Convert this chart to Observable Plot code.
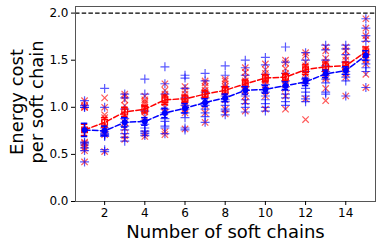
<!DOCTYPE html>
<html><head><meta charset="utf-8">
<script src="https://cdn.jsdelivr.net/npm/d3@7"></script>
<script src="https://cdn.jsdelivr.net/npm/@observablehq/plot@0.6"></script>
<style>body{margin:0;background:#fff}</style>
</head><body><div id="chart"></div>
<script>
const chains = [1,2,3,4,5,6,7,8,9,10,11,12,13,14,15];
const redPoints = [
  [1.07,1.02,1.0,1.0,0.63,0.62,0.60,0.57,0.54,0.42],
  [1.10,1.0,0.92,0.89,0.82,0.76,0.73,0.71,0.53],
  [1.14,1.12,1.08,1.02,0.97,0.92,0.84,0.78,0.70,0.66],
  [1.12,1.08,1.06,1.04,1.0,0.98,0.95,0.90,0.72,0.69],
  [1.25,1.18,1.14,1.12,1.08,1.05,1.0,0.95,0.74,0.71],
  [1.22,1.18,1.14,1.10,1.08,1.05,1.02,0.98,0.94,0.77],
  [1.28,1.26,1.22,1.18,1.15,1.12,1.08,1.02,0.94,0.84],
  [1.30,1.28,1.25,1.22,1.19,1.16,1.12,1.08,0.98,0.93],
  [1.42,1.37,1.32,1.28,1.25,1.22,1.18,1.12,1.06,0.96],
  [1.46,1.40,1.36,1.32,1.30,1.28,1.24,1.18,1.12,0.98],
  [1.50,1.47,1.41,1.36,1.32,1.28,1.24,1.20,1.12,0.98],
  [1.58,1.55,1.48,1.44,1.40,1.36,1.32,1.28,1.09,0.87],
  [1.64,1.60,1.52,1.48,1.42,1.38,1.32,1.30,1.20,1.07],
  [1.64,1.60,1.54,1.50,1.46,1.42,1.40,1.36,1.32,1.12],
  [1.94,1.84,1.76,1.72,1.62,1.56,1.50,1.46,1.35,1.21]
];
const bluePoints = [
  [1.07,1.02,1.0,1.0,0.63,0.62,0.60,0.57,0.54,0.42],
  [1.20,1.0,0.78,0.74,0.72,0.71,0.70,0.69,0.55,0.53],
  [1.14,1.10,0.98,0.88,0.84,0.80,0.76,0.72,0.68,0.64],
  [1.30,1.14,0.96,0.86,0.82,0.78,0.75,0.74,0.72,0.70],
  [1.43,1.25,1.14,0.98,0.94,0.88,0.85,0.80,0.78,0.72],
  [1.34,1.31,1.20,1.10,1.02,0.98,0.94,0.89,0.78,0.76],
  [1.36,1.28,1.16,1.10,1.05,1.02,0.98,0.94,0.90,0.84],
  [1.44,1.34,1.22,1.12,1.08,1.06,1.02,0.98,0.96,0.92],
  [1.50,1.42,1.34,1.22,1.18,1.12,1.08,1.04,1.0,0.95],
  [1.53,1.45,1.35,1.24,1.16,1.12,1.08,1.04,1.0,0.96],
  [1.64,1.48,1.36,1.28,1.22,1.18,1.14,1.10,1.06,1.02],
  [1.58,1.50,1.38,1.30,1.25,1.20,1.16,1.12,1.09,1.06],
  [1.66,1.61,1.50,1.44,1.38,1.34,1.30,1.26,1.16,1.14],
  [1.66,1.62,1.56,1.48,1.42,1.38,1.35,1.32,1.28,1.12],
  [1.94,1.84,1.76,1.70,1.56,1.50,1.46,1.42,1.38,1.21]
];
const redMean = [0.76,0.84,0.95,0.98,1.08,1.09,1.14,1.18,1.25,1.31,1.32,1.40,1.43,1.44,1.59];
const redErr  = [0.06,0.05,0.05,0.04,0.05,0.04,0.04,0.04,0.04,0.04,0.04,0.05,0.05,0.04,0.05];
const blueMean = [0.76,0.75,0.84,0.85,0.94,0.99,1.05,1.10,1.18,1.19,1.23,1.27,1.355,1.39,1.55];
const blueErr  = [0.07,0.05,0.05,0.04,0.05,0.05,0.04,0.04,0.04,0.04,0.04,0.04,0.04,0.04,0.05];
const yTicks = [0,0.5,1.0,1.5,2.0];
const xTicks = [2,4,6,8,10,12,14];
const refLevel = 2.0;

const redScatter = chains.flatMap((c,i) => redPoints[i].map(v => ({x:c, y:v})));
const blueScatter = chains.flatMap((c,i) => bluePoints[i].map(v => ({x:c, y:v})));
const redStats = chains.map((c,i) => ({x:c, y:redMean[i], e:redErr[i]}));
const blueStats = chains.map((c,i) => ({x:c, y:blueMean[i], e:blueErr[i]}));
const cap = 0.16;

const errMarks = (data, color) => [
  Plot.ruleX(data, {x:"x", y1:d=>d.y-d.e, y2:d=>d.y+d.e, stroke:color, strokeWidth:1.5}),
  Plot.ruleY(data, {y:d=>d.y-d.e, x1:d=>d.x-cap, x2:d=>d.x+cap, stroke:color, strokeWidth:1.5}),
  Plot.ruleY(data, {y:d=>d.y+d.e, x1:d=>d.x-cap, x2:d=>d.x+cap, stroke:color, strokeWidth:1.5})
];

const chart = Plot.plot({
  width: 381, height: 248,
  marginLeft: 75, marginRight: 6, marginTop: 6, marginBottom: 47,
  style: {fontFamily: "DejaVu Sans", fontSize: "12px", color: "#000", background: "#fff"},
  x: {domain: [0.55, 15.48]},
  y: {domain: [0, 2.07]},
  marks: [
    Plot.ruleY([refLevel], {stroke:"#000", strokeWidth:1.2, strokeDasharray:"4.5,2.2"}),
    Plot.dot(redScatter, {x:"x", y:"y", symbol:"times", r:3, stroke:"#ff0000", strokeOpacity:0.65, strokeWidth:1.2}),
    Plot.dot(blueScatter, {x:"x", y:"y", symbol:"plus", r:3, stroke:"#0000ff", strokeOpacity:0.65, strokeWidth:1.2}),
    ...errMarks(redStats, "#ff0000"),
    Plot.line(redStats, {x:"x", y:"y", stroke:"#ff0000", strokeWidth:1.5, strokeDasharray:"5.5,2.4"}),
    Plot.dot(redStats, {x:"x", y:"y", symbol:"square", r:3.2, stroke:"#ff0000", fill:"none", strokeWidth:1.2}),
    ...errMarks(blueStats, "#0000ff"),
    Plot.line(blueStats, {x:"x", y:"y", stroke:"#0000ff", strokeWidth:1.5, strokeDasharray:"5.5,2.4"}),
    Plot.dot(blueStats, {x:"x", y:"y", symbol:"circle", r:3, fill:"#0000ff"}),
    Plot.frame({stroke:"#555", strokeWidth:1}),
    Plot.axisY({ticks: yTicks, tickFormat: d3.format(".1f"), tickSize: 4, tickPadding: 3, fontSize: 12, label: null}),
    Plot.axisX({ticks: xTicks, tickFormat: d => String(d), tickSize: 4, tickPadding: 3, fontSize: 12, label: null}),
    Plot.text(["Energy cost\nper soft chain"], {frameAnchor:"left", textAnchor:"middle", lineAnchor:"middle", dx:-49, dy:-2, rotate:-90, text:d=>d, fontSize:18, lineHeight:1.11}),
    Plot.text(["Number of soft chains"], {frameAnchor:"bottom", textAnchor:"middle", lineAnchor:"middle", dy:30.5, text:d=>d, fontSize:18})
  ]
});
document.getElementById("chart").appendChild(chart);
</script>
</body></html>
